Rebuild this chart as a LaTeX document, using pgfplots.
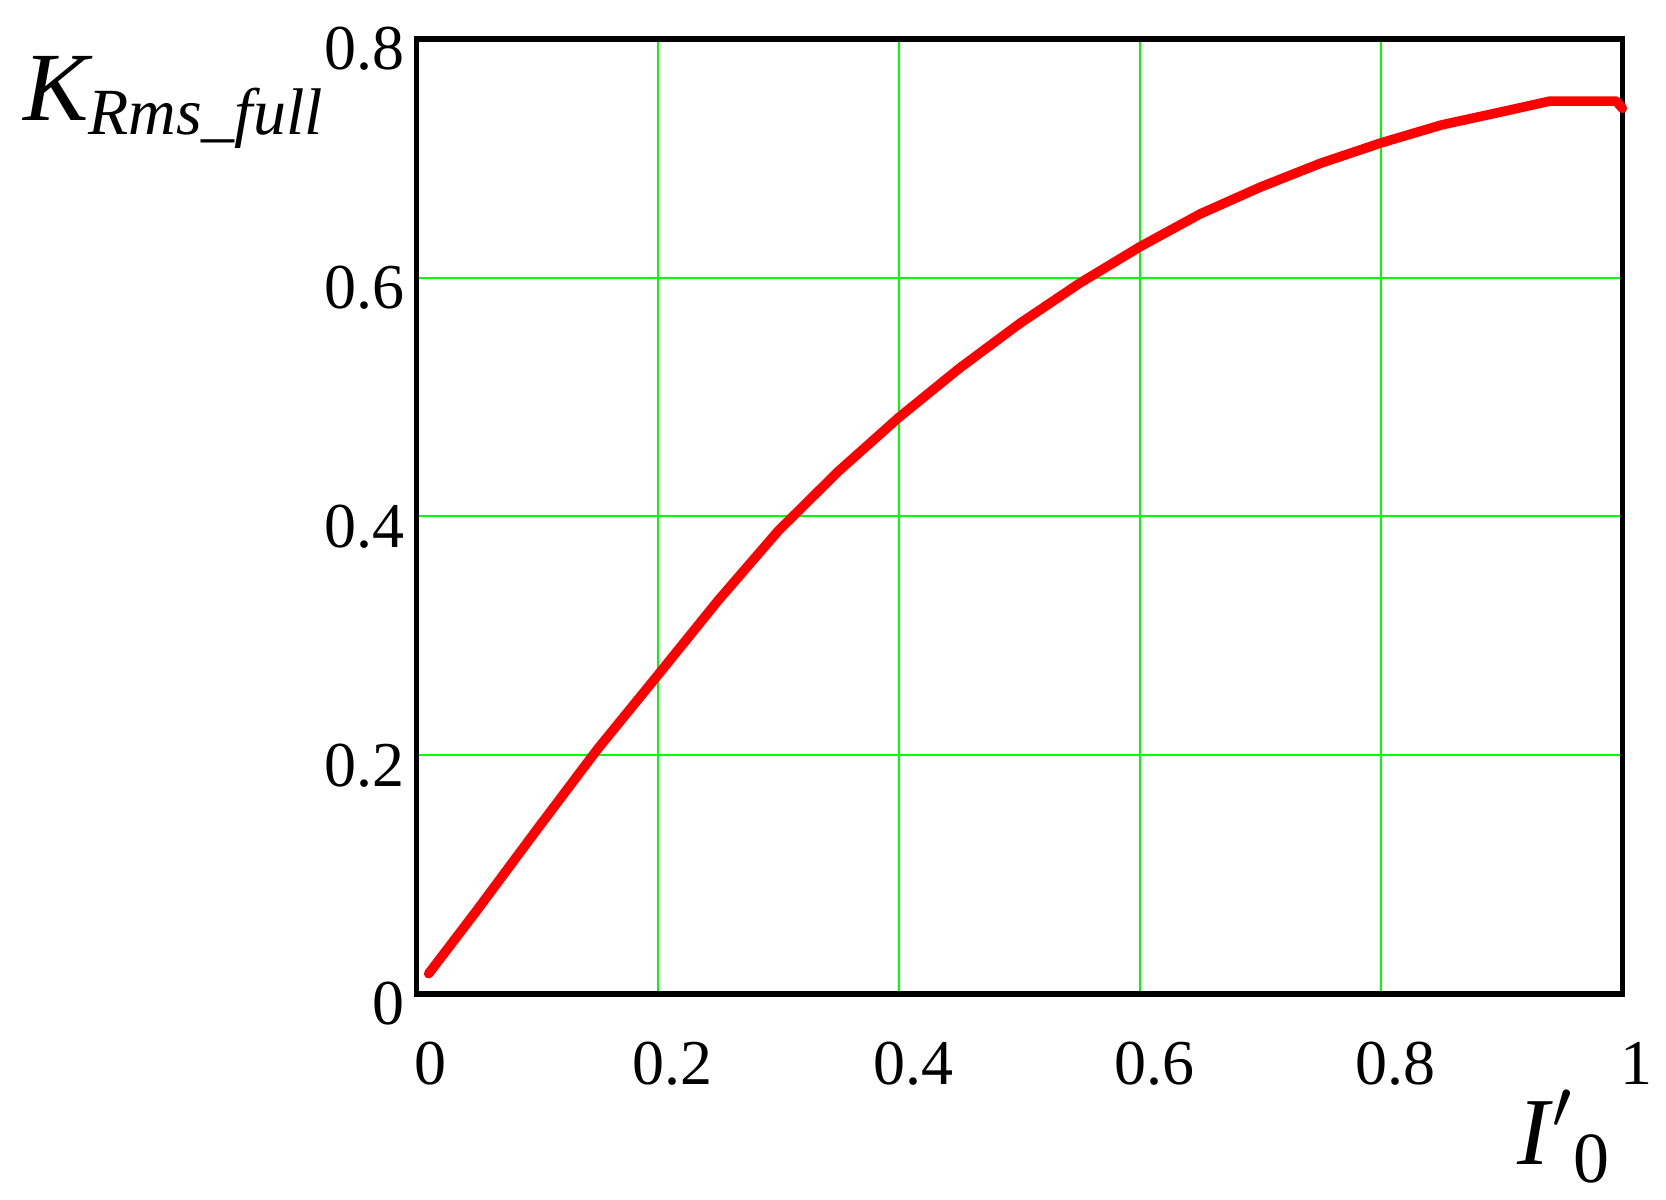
\documentclass[border=0pt]{standalone}
\usepackage{pgfplots}
\pgfplotsset{compat=1.18}
\usepackage{fontspec}
\setmainfont{Liberation Serif}
\definecolor{gridgreen}{RGB}{0,255,0}
\definecolor{curvered}{RGB}{255,0,0}
\begin{document}
\begin{tikzpicture}
\begin{axis}[
  scale only axis,
  width=301.75pt, height=239pt,
  xmin=0, xmax=1, ymin=0, ymax=0.8,
  xtick={0,0.2,0.4,0.6,0.8,1},
  ytick={0,0.2,0.4,0.6,0.8},
  xticklabels={0,0.2,0.4,0.6,0.8,1},
  yticklabels={0,0.2,0.4,0.6,0.8},
  /pgf/number format/assume math mode=true,
  major tick length=0pt,
  grid=major,
  major grid style={gridgreen, line width=0.5pt},
  axis line style={black, line width=1.3pt},
  tick label style={font=\fontsize{16}{18}\selectfont},
  xticklabel style={xshift=3.6pt, yshift=-8.5pt},
  yticklabel style={yshift=-2.5pt, xshift=0.5pt},
  clip=false,
]
\addplot[curvered, line width=2.4pt, line join=round, line cap=round] coordinates {
(0.010,0.017)
(0.05,0.070)
(0.1,0.138)
(0.15,0.205)
(0.2,0.267)
(0.25,0.3295)
(0.3,0.388)
(0.35,0.438)
(0.4,0.483)
(0.45,0.524)
(0.5,0.5615)
(0.55,0.5955)
(0.6,0.626)
(0.65,0.6535)
(0.7,0.676)
(0.75,0.696)
(0.8,0.713)
(0.85,0.728)
(0.9,0.739)
(0.94,0.748)
(0.995,0.748)
(1.0,0.742)
};
\node[anchor=base west, inner sep=0pt] at (rel axis cs:-0.327,0.915)
  {\fontsize{24.5}{28}\selectfont\itshape K\raisebox{-3.5pt}{\fontsize{16.5}{18}\selectfont Rms\_full}};
\node[anchor=base west, inner sep=0pt] at (rel axis cs:0.912,-0.179)
  {\fontsize{24}{28}\selectfont\itshape I\/\raisebox{0pt}{$'$}\raisebox{-4.5pt}{\fontsize{18}{20}\selectfont\upshape 0}};
\end{axis}
\path ([shift={(-104.25pt,-51.5pt)}]current axis.south west) rectangle ++(416.5pt,300.25pt);
\end{tikzpicture}
\end{document}
